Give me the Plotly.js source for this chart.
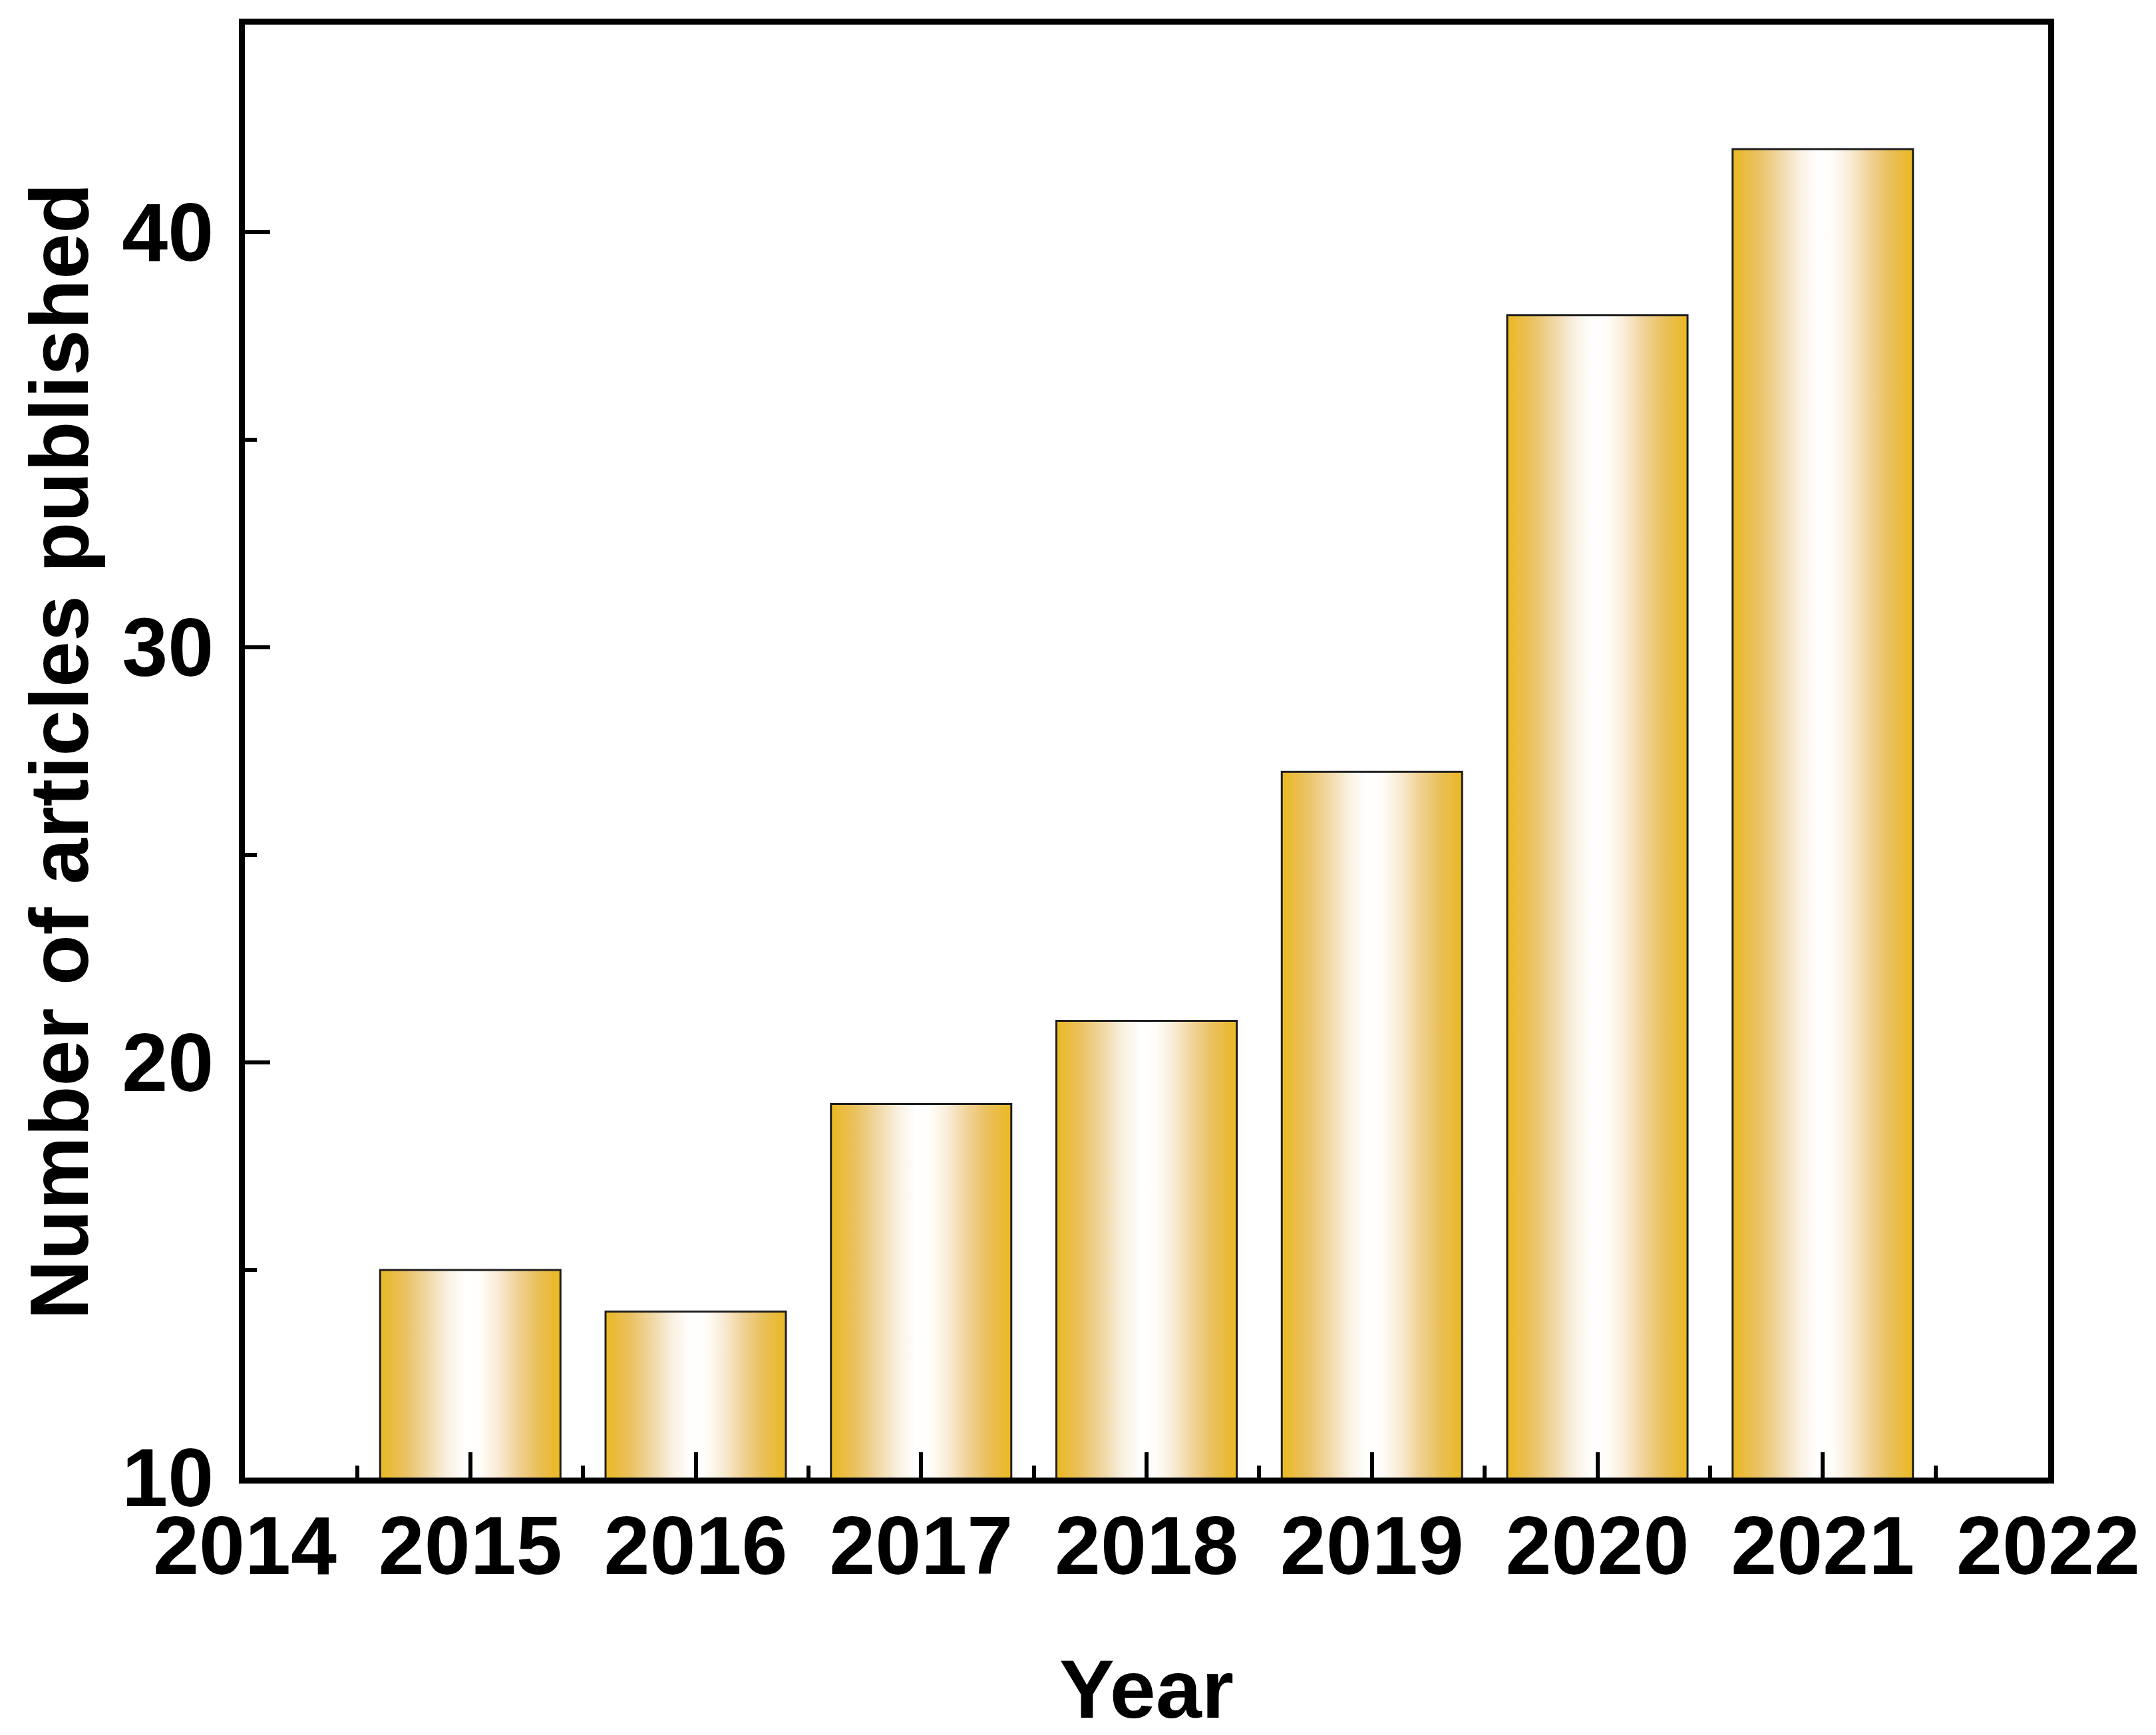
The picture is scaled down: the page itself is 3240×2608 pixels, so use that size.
<!DOCTYPE html>
<html>
<head>
<meta charset="utf-8">
<script src="https://cdn.plot.ly/plotly-3.0.1.min.js"></script>
<style>
  html, body { margin: 0; padding: 0; background: #ffffff; }
  #chart { width: 3240px; height: 2608px; }
</style>
</head>
<body>
<div id="chart"></div>
<script>
// ---- data ----
const years = [2015, 2016, 2017, 2018, 2019, 2020, 2021];
const articles = [15, 14, 19, 21, 27, 38, 42];
const xTickValues = [2014, 2015, 2016, 2017, 2018, 2019, 2020, 2021, 2022];
const yTickValues = [10, 20, 30, 40];
const xTitle = 'Year';
const yTitle = 'Number of articles published';

// ---- styling ----
const barWidth = 0.8;
const barGradient = [
  [0.00, 'rgb(236,186,30)'],
  [0.04, 'rgb(234,186,52)'],
  [0.14, 'rgb(234,194,98)'],
  [0.26, 'rgb(240,216,165)'],
  [0.37, 'rgb(249,240,224)'],
  [0.47, 'rgb(255,255,255)'],
  [0.55, 'rgb(255,253,250)'],
  [0.65, 'rgb(249,236,214)'],
  [0.76, 'rgb(240,210,150)'],
  [0.87, 'rgb(233,192,92)'],
  [0.96, 'rgb(234,186,52)'],
  [1.00, 'rgb(236,186,30)']
];
const fontFamily = '"Liberation Sans", Arial, Helvetica, sans-serif';

const traces = years.map((yr, i) => {
  const v = articles[i];
  const x0 = yr - barWidth / 2, x1 = yr + barWidth / 2;
  return {
    type: 'scatter',
    mode: 'lines',
    x: [x0, x0, x1, x1, x0],
    y: [0, v, v, 0, 0],
    fill: 'toself',
    fillgradient: { type: 'horizontal', colorscale: barGradient },
    line: { color: '#1e1e1e', width: 3 },
    showlegend: false,
    name: String(yr),
    hoverinfo: 'name+y'
  };
});

const tickFont = { family: fontFamily, size: 124, color: '#000', weight: 700 };
const titleFont = { family: fontFamily, size: 124, color: '#000', weight: 700 };

const layout = {
  width: 3240,
  height: 2608,
  paper_bgcolor: '#ffffff',
  plot_bgcolor: '#ffffff',
  margin: { l: 368, r: 162, t: 37, b: 387, autoexpand: false },
  showlegend: false,
  xaxis: {
    range: [2014, 2022],
    tickmode: 'array',
    tickvals: xTickValues,
    ticktext: xTickValues.map(String),
    ticks: 'inside',
    ticklen: 38,
    tickwidth: 6,
    tickcolor: '#000',
    showline: true,
    linewidth: 9,
    linecolor: '#000',
    mirror: true,
    showgrid: false,
    zeroline: false,
    tickfont: tickFont,
    ticklabelstandoff: -13,
    minor: { tickmode: 'array', tickvals: xTickValues.slice(0, -1).map(v => v + 0.5), ticks: 'inside', ticklen: 18, tickwidth: 6, tickcolor: '#000', showgrid: false },
    title: { text: xTitle, font: titleFont, standoff: 118 }
  },
  yaxis: {
    range: [10, 45],
    tickmode: 'array',
    tickvals: yTickValues,
    ticktext: yTickValues.map(String),
    ticks: 'inside',
    ticklen: 38,
    tickwidth: 6,
    tickcolor: '#000',
    showline: true,
    linewidth: 9,
    linecolor: '#000',
    mirror: true,
    showgrid: false,
    zeroline: false,
    tickfont: tickFont,
    ticklabelstandoff: 13,
    minor: { tickmode: 'array', tickvals: [15, 25, 35], ticks: 'inside', ticklen: 18, tickwidth: 6, tickcolor: '#000', showgrid: false }
  },
  annotations: [{
    text: yTitle,
    textangle: -90,
    xref: 'paper', yref: 'paper',
    x: -0.103, y: 0.5,
    xanchor: 'center', yanchor: 'middle',
    showarrow: false,
    font: titleFont
  }]
};

Plotly.newPlot('chart', traces, layout, { staticPlot: true, displayModeBar: false });
</script>
</body>
</html>
